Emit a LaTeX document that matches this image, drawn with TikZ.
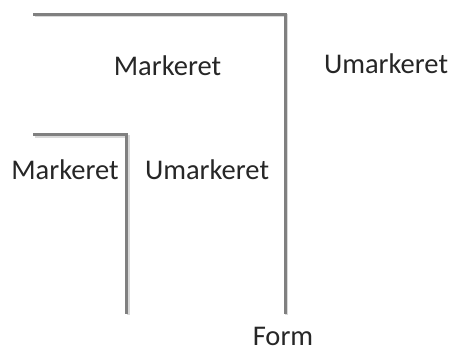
\documentclass[tikz,border=0pt]{standalone}
\usepackage{fontspec}
\setmainfont{Carlito}
\begin{document}
\begin{tikzpicture}[x=1pt,y=-1pt,
  lbl/.style={anchor=base,inner sep=0pt,text=black!85,font=\fontsize{28.5}{34}\selectfont},
  edge/.style={draw=black!50,line width=3pt,line cap=butt,line join=miter},
  shadow/.style={draw=black!15,line width=3pt,line cap=butt,line join=miter}]
\useasboundingbox (0,0) rectangle (453,352);
\coordinate (a1) at (33,14.5);
\coordinate (a2) at (285,14.5);
\coordinate (a3) at (285,314);
\coordinate (b1) at (33,135);
\coordinate (b2) at (126.5,135);
\coordinate (b3) at (126.5,314);
\draw[shadow] ([shift={(1.5,1.5)}]a1) -- ([shift={(1.5,1.5)}]a2) -- ([shift={(1.5,1.5)}]a3);
\draw[shadow] ([shift={(1.5,1.5)}]b1) -- ([shift={(1.5,1.5)}]b2) -- ([shift={(1.5,1.5)}]b3);
\draw[edge] (a1) -- (a2) -- (a3);
\draw[edge] (b1) -- (b2) -- (b3);
\node[lbl] (m1) at (167.5,76) {Markeret};
\node[lbl] (u1) at (386,74) {Umarkeret};
\node[lbl] (m2) at (65,180) {Markeret};
\node[lbl] (u2) at (207,180) {Umarkeret};
\node[lbl] (f) at (283,346) {Form};
\end{tikzpicture}
\end{document}
